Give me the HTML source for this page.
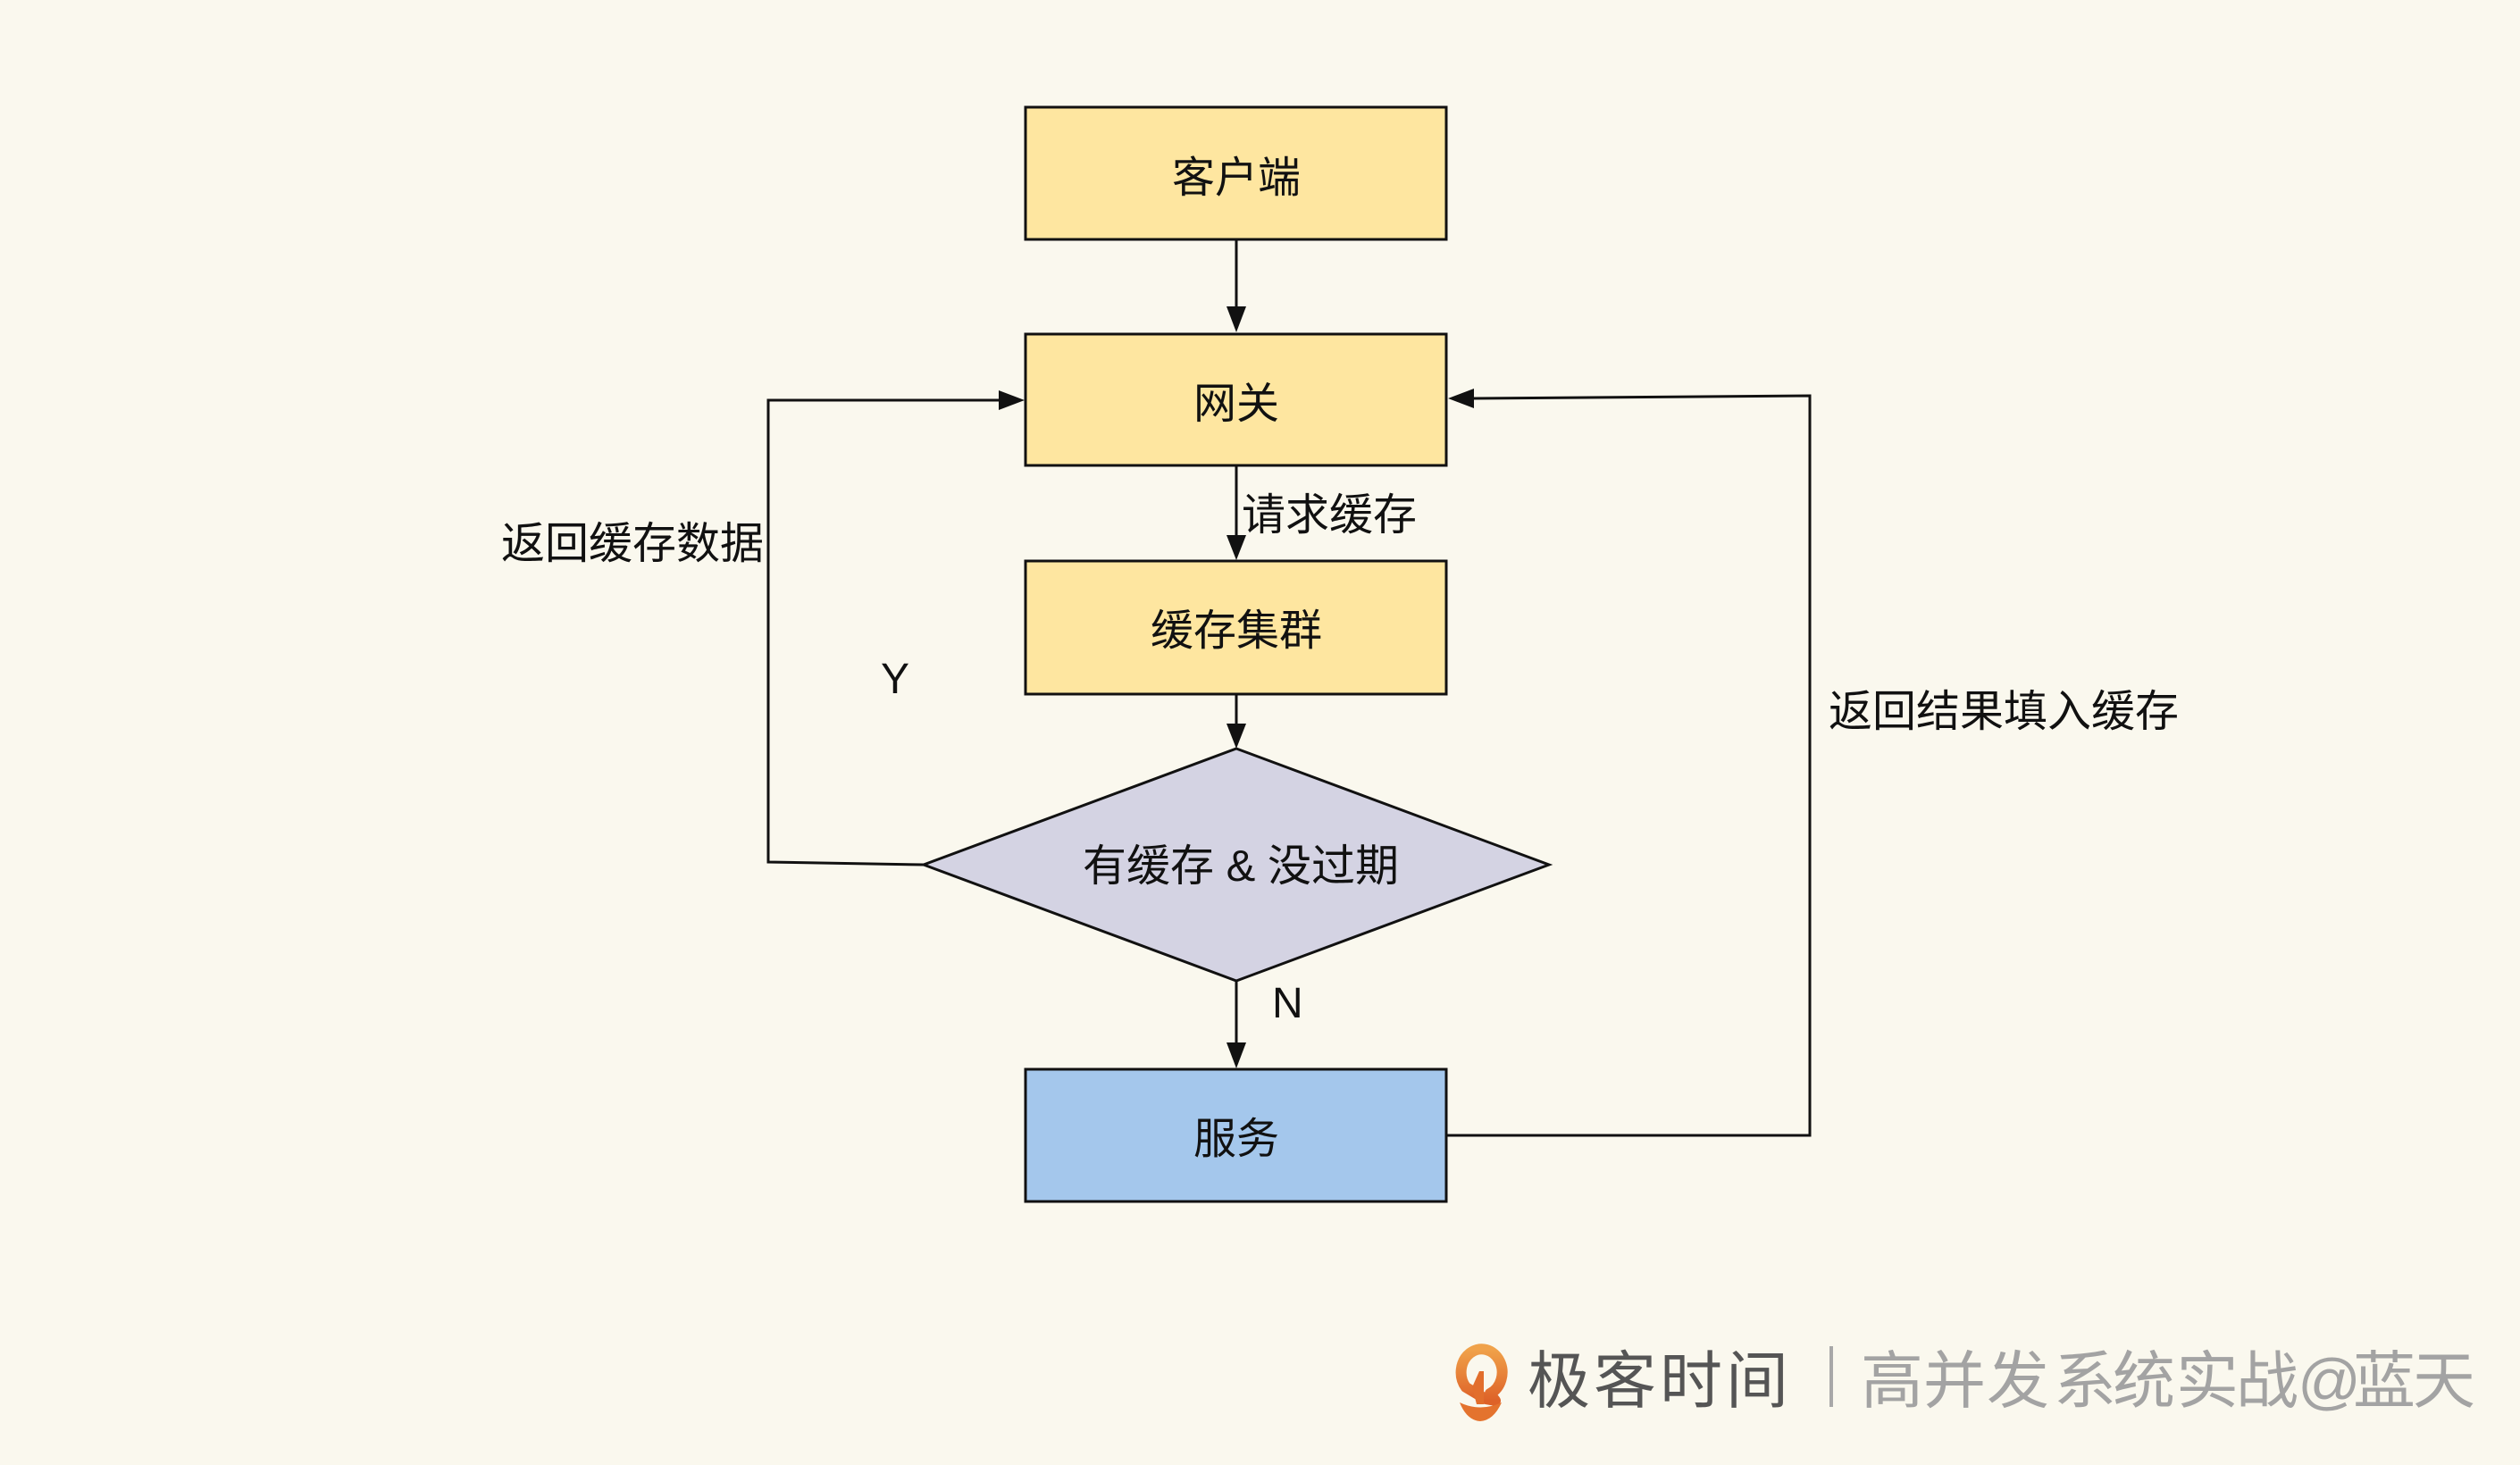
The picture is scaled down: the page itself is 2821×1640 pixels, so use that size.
<!DOCTYPE html>
<html>
<head>
<meta charset="utf-8">
<style>
  html, body { margin: 0; padding: 0; background: #FAF8EE; }
  body { width: 2821px; height: 1640px; overflow: hidden; }
  svg { display: block; }
  text { font-family: "Liberation Sans", "Noto Sans CJK SC", sans-serif; fill: #111; }
</style>
</head>
<body>
<svg width="2821" height="1640" viewBox="0 0 2821 1640" xmlns="http://www.w3.org/2000/svg">
  <defs>
    <linearGradient id="lg" x1="0" y1="0" x2="0" y2="1">
      <stop offset="0" stop-color="#F0A24A"/>
      <stop offset="1" stop-color="#DE6228"/>
    </linearGradient>
  </defs>
  <rect x="0" y="0" width="2821" height="1640" fill="#FAF8EE"/>

  <!-- connectors -->
  <g stroke="#111" stroke-width="3" fill="none">
    <line x1="1384" y1="268" x2="1384" y2="345"/>
    <line x1="1384" y1="521" x2="1384" y2="601"/>
    <line x1="1384" y1="777" x2="1384" y2="812"/>
    <line x1="1384" y1="1098" x2="1384" y2="1169"/>
    <polyline points="1034,968 860,965 860,448 1120,448"/>
    <polyline points="1619,1271 2026,1271 2026,443 1648,446"/>
  </g>
  <g fill="#111">
    <polygon points="1373,343 1395,343 1384,372"/>
    <polygon points="1373,599 1395,599 1384,627"/>
    <polygon points="1373,810 1395,810 1384,838"/>
    <polygon points="1373,1167 1395,1167 1384,1196"/>
    <polygon points="1118,437 1118,459 1147,448"/>
    <polygon points="1650,435 1650,457 1621,446"/>
  </g>

  <!-- nodes -->
  <g stroke="#111" stroke-width="3">
    <rect x="1148" y="120" width="471" height="148" fill="#FEE6A0"/>
    <rect x="1148" y="374" width="471" height="147" fill="#FEE6A0"/>
    <rect x="1148" y="628" width="471" height="149" fill="#FEE6A0"/>
    <polygon points="1384,838 1734,968 1384,1098 1034,968" fill="#D4D3E3"/>
    <rect x="1148" y="1197" width="471" height="148" fill="#A4C7EC"/>
  </g>

  <!-- node labels -->
  <g font-size="48" text-anchor="middle">
    <text x="1384" y="215">客户端</text>
    <text x="1384" y="468">网关</text>
    <text x="1384" y="722">缓存集群</text>
    <text x="1389" y="986" font-size="49">有缓存 &amp; 没过期</text>
    <text x="1384" y="1291">服务</text>
  </g>

  <!-- edge labels -->
  <g font-size="49">
    <text x="1390" y="593">请求缓存</text>
    <text x="855" y="625" text-anchor="end">返回缓存数据</text>
    <text x="2047" y="813">返回结果填入缓存</text>
    <text x="986" y="776" font-size="48">Y</text>
    <text x="1424" y="1139" font-size="48">N</text>
  </g>

  <!-- footer logo -->
  <g>
    <path d="M 1641 1553 A 23 26 0 1 1 1668 1560 L 1674 1568 L 1663 1566 Z" fill="none" stroke="url(#lg)" stroke-width="12" stroke-linejoin="round"/>
    <polygon points="1648,1553 1656,1535 1661,1535 1661,1572 1653,1572" fill="#E26E2C"/>
    <path d="M 1634 1570 Q 1657 1581 1681 1570 Q 1672 1590 1657 1591 Q 1642 1590 1634 1570 Z" fill="#E4732E"/>
  </g>
  <text x="1710 1784 1858 1932" y="1570" font-size="70" style="fill:#555555">极客时间</text>
  <rect x="2048" y="1507" width="4" height="68" fill="#A8A8A8"/>
  <text x="2083 2153 2224 2299 2365 2436 2503 2572 2634 2701" y="1570" font-size="70" style="fill:#A3A3A3">高并发系统实战@蓝天</text>
</svg>
</body>
</html>
